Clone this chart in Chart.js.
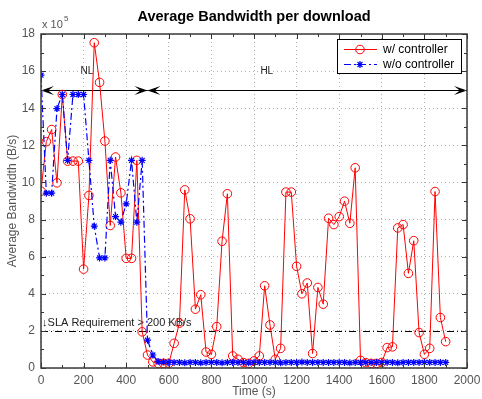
<!DOCTYPE html>
<html>
<head>
<meta charset="utf-8">
<script src="https://cdn.jsdelivr.net/npm/chart.js@4.4.1/dist/chart.umd.min.js"></script>
<style>
  html, body { margin: 0; padding: 0; background: #fff; }
</style>
</head>
<body>
<canvas id="bw-chart" width="482" height="399"></canvas>
<script>
// sample times (s)
var times = [0, 25, 50, 75, 100, 125, 150, 175, 200, 225,
    250, 275, 300, 325, 350, 375, 400, 425, 450, 475,
    500, 525, 550, 575, 600, 625, 650, 675, 700, 725,
    750, 775, 800, 825, 850, 875, 900, 925, 950, 975,
    1000, 1025, 1050, 1075, 1100, 1125, 1150, 1175, 1200, 1225,
    1250, 1275, 1300, 1325, 1350, 1375, 1400, 1425, 1450, 1475,
    1500, 1525, 1550, 1575, 1600, 1625, 1650, 1675, 1700, 1725,
    1750, 1775, 1800, 1825, 1850, 1875, 1900];

// average bandwidth, in units of 10^5 B/s
var withController = [9.53, 12.2, 12.85, 9.98, 14.74, 11.15, 11.15, 11.15, 5.33, 9.3,
    17.53, 15.39, 12.23, 7.68, 11.37, 9.44, 5.91, 5.91, 11.19, 1.95,
    0.7, 0.33, 0.25, 0.25, 0.25, 1.33, 2.42, 9.6, 8.04, 3.17,
    3.95, 0.86, 0.74, 2.23, 6.83, 9.39, 0.65, 0.47, 0.29, 0.25,
    0.38, 0.65, 4.43, 2.32, 0.47, 1.06, 9.48, 9.48, 5.48, 4.0,
    4.58, 0.78, 4.34, 3.44, 8.07, 7.73, 8.16, 8.99, 7.8, 10.79,
    0.41, 0.29, 0.25, 0.25, 0.3, 1.1, 1.14, 7.55, 7.73, 5.1,
    6.86, 1.91, 0.74, 1.06, 9.51, 2.72, 1.42];

var withoutController = [15.78, 9.42, 9.42, 13.98, 14.74, 11.19, 14.74, 14.74, 14.74, 11.19,
    7.65, 5.93, 5.93, 11.19, 8.16, 7.86, 8.85, 11.19, 7.86, 11.19,
    1.5, 0.7, 0.35, 0.32, 0.3, 0.3, 0.3, 0.28, 0.3, 0.3,
    0.28, 0.3, 0.3, 0.3, 0.28, 0.3, 0.3, 0.3, 0.3, 0.28,
    0.3, 0.3, 0.3, 0.3, 0.3, 0.28, 0.3, 0.3, 0.3, 0.32,
    0.3, 0.3, 0.3, 0.3, 0.3, 0.3, 0.3, 0.3, 0.28, 0.3,
    0.3, 0.3, 0.3, 0.3, 0.3, 0.3, 0.3, 0.28, 0.3, 0.3,
    0.3, 0.3, 0.3, 0.3, 0.3, 0.3, 0.3];

var seriesLabels = ['w/ controller', 'w/o controller'];
var xTicks = [0, 200, 400, 600, 800, 1000, 1200, 1400, 1600, 1800, 2000];
var yTicks = [0, 2, 4, 6, 8, 10, 12, 14, 16, 18];
var chartTitle = 'Average Bandwidth per download';

// annotations
var slaLevel = 2;
var slaText = '\u2193SLA Requirement > 200 KB/s';
var arrowLevel = 15;
var regionNames = ['NL', 'HL'];
var regionStart = [0, 500];
var regionEnd = [500, 2000];
var regionNameAt = [215, 1060];

var FONT = '"Liberation Sans", Arial, sans-serif';

function toPoints(values) {
    return values.map(function(v, i) { return { x: times[i], y: v }; });
}

function drawHead(c, x, y, dir) {
    // dir +1 = pointing right, -1 = pointing left
    var L = 13, W = 4.5;
    c.beginPath();
    c.moveTo(x, y);
    c.lineTo(x - dir * L, y - W);
    c.lineTo(x - dir * L * 0.55, y);
    c.lineTo(x - dir * L, y + W);
    c.closePath();
    c.fill();
}

var annotations = {
    id: 'annotations',
    beforeDatasetsDraw: function(chart) {
        var c = chart.ctx, xs = chart.scales.x, ys = chart.scales.y;
        var a = chart.chartArea;
        c.save();
        // SLA dash-dot line
        var yS = Math.round(ys.getPixelForValue(slaLevel)) + 0.5;
        c.strokeStyle = '#000';
        c.lineWidth = 1;
        c.setLineDash([7, 3, 1, 3]);
        c.beginPath();
        c.moveTo(a.left, yS);
        c.lineTo(a.right, yS);
        c.stroke();
        c.setLineDash([]);
        c.fillStyle = '#222';
        c.font = '11px ' + FONT;
        c.textBaseline = 'middle';
        c.textAlign = 'left';
        c.fillText(slaText, xs.getPixelForValue(5), ys.getPixelForValue(2.4));

        // region arrows
        var yA = Math.round(ys.getPixelForValue(arrowLevel)) + 0.5;
        c.strokeStyle = '#000';
        c.fillStyle = '#000';
        for (var i = 0; i < regionNames.length; i++) {
            var x0 = xs.getPixelForValue(regionStart[i]);
            var x1 = xs.getPixelForValue(regionEnd[i]);
            c.beginPath();
            c.moveTo(x0, yA);
            c.lineTo(x1, yA);
            c.stroke();
            drawHead(c, x0, yA, -1);
            drawHead(c, x1, yA, 1);
            c.fillStyle = '#222';
            c.font = '10px ' + FONT;
            c.textAlign = 'center';
            c.fillText(regionNames[i], xs.getPixelForValue(regionNameAt[i]), ys.getPixelForValue(16));
            c.fillStyle = '#000';
        }
        c.restore();
    },
    afterDraw: function(chart) {
        var c = chart.ctx, xs = chart.scales.x, ys = chart.scales.y;
        var a = chart.chartArea;
        c.save();
        // inward ticks
        c.strokeStyle = '#333';
        c.lineWidth = 1;
        c.beginPath();
        for (var t = 0; t <= 2000; t += 100) {
            var px = Math.round(xs.getPixelForValue(t)) + 0.5;
            var len = t % 200 === 0 ? 5 : 3;
            c.moveTo(px, a.bottom); c.lineTo(px, a.bottom - len);
            c.moveTo(px, a.top); c.lineTo(px, a.top + len);
        }
        for (var v = 0; v <= 18; v += 1) {
            var py = Math.round(ys.getPixelForValue(v)) + 0.5;
            var l2 = v % 2 === 0 ? 5 : 3;
            c.moveTo(a.left, py); c.lineTo(a.left + l2, py);
            c.moveTo(a.right, py); c.lineTo(a.right - l2, py);
        }
        c.stroke();
        // frame
        c.strokeStyle = '#3a3a3a';
        c.lineWidth = 1.5;
        c.strokeRect(a.left, a.top, a.right - a.left, a.bottom - a.top);

        // title, centred over the axes
        c.fillStyle = '#000';
        c.font = 'bold 14.5px ' + FONT;
        c.textAlign = 'center';
        c.textBaseline = 'middle';
        c.fillText(chartTitle, (a.left + a.right) / 2, 17);

        // exponent label
        c.fillStyle = '#555';
        c.font = '11px ' + FONT;
        c.textAlign = 'left';
        c.textBaseline = 'alphabetic';
        c.fillText('x 10', 42, 28);
        c.font = '8px ' + FONT;
        c.fillText('5', 64, 21);

        // legend
        var lx = 337, ly = 39, lw = 124, lh = 34;
        c.fillStyle = '#fff';
        c.fillRect(lx, ly, lw, lh);
        c.strokeStyle = '#000';
        c.lineWidth = 1;
        c.strokeRect(lx + 0.5, ly + 0.5, lw, lh);
        var rows = [ly + 10, ly + 25];
        var ds = chart.data.datasets;
        for (var k = 0; k < ds.length; k++) {
            var ry = rows[k] + 0.5;
            c.strokeStyle = ds[k].borderColor;
            c.lineWidth = ds[k].borderWidth;
            c.setLineDash(ds[k].borderDash || []);
            c.beginPath();
            c.moveTo(344, ry);
            c.lineTo(377, ry);
            c.stroke();
            c.setLineDash([]);
            c.fillStyle = 'rgba(0,0,0,0)';
            Chart.helpers.drawPoint(c, {
                pointStyle: ds[k].pointStyle,
                radius: ds[k].pointRadius,
                borderWidth: ds[k].pointBorderWidth,
                rotation: 0
            }, 360, ry);
            c.fillStyle = '#000';
            c.font = '12px ' + FONT;
            c.textBaseline = 'middle';
            c.fillText(ds[k].label, 383, ry);
        }
        c.restore();
    }
};

var ctx = document.getElementById('bw-chart').getContext('2d');
var myChart = new Chart(ctx, {
    type: 'line',
    data: {
        datasets: [{
            label: seriesLabels[0],
            data: toPoints(withController),
            borderColor: '#ff0000',
            borderWidth: 1,
            pointStyle: 'circle',
            pointRadius: 4.3,
            pointBorderColor: '#ff0000',
            pointBackgroundColor: 'rgba(255,255,255,0)',
            pointBorderWidth: 1,
            tension: 0,
            order: 2
        }, {
            label: seriesLabels[1],
            data: toPoints(withoutController),
            borderColor: '#0000ff',
            borderWidth: 1.2,
            borderDash: [7, 3, 2, 3],
            pointStyle: 'star',
            pointRadius: 3.5,
            pointBorderColor: '#0000ff',
            pointBackgroundColor: '#0000ff',
            pointBorderWidth: 1.2,
            tension: 0,
            order: 1
        }]
    },
    options: {
        responsive: false,
        animation: false,
        layout: { padding: { left: 0, right: 15, top: 34, bottom: 0 } },
        plugins: {
            legend: { display: false },
            tooltip: { enabled: false },
            title: { display: false }
        },
        scales: {
            x: {
                type: 'linear',
                min: 0,
                max: 2000,
                afterBuildTicks: function(s) { s.ticks = xTicks.map(function(v) { return { value: v }; }); },
                afterFit: function(s) { s.height = 31; s.paddingLeft = 0; s.paddingRight = 0; },
                ticks: {
                    color: '#555', font: { family: FONT, size: 12 }, padding: 5, maxRotation: 0,
                    callback: function(v) { return String(v); }
                },
                grid: { color: '#b0b0b0', drawTicks: false },
                border: { display: false, dash: [1, 3] },
                title: { display: true, text: 'Time (s)', color: '#555', font: { family: FONT, size: 12 }, padding: 0 }
            },
            y: {
                min: 0,
                max: 18,
                afterBuildTicks: function(s) { s.ticks = yTicks.map(function(v) { return { value: v }; }); },
                afterFit: function(s) { s.width = 41; s.paddingTop = 0; s.paddingBottom = 0; },
                ticks: {
                    color: '#555', font: { family: FONT, size: 12 }, padding: 6,
                    callback: function(v) { return String(v); }
                },
                grid: { color: '#b0b0b0', drawTicks: false },
                border: { display: false, dash: [1, 3] },
                title: { display: true, text: 'Average Bandwidth (B/s)', color: '#555', font: { family: FONT, size: 12 }, padding: { top: 5, bottom: 4 } }
            }
        }
    },
    plugins: [annotations]
});
</script>
</body>
</html>
